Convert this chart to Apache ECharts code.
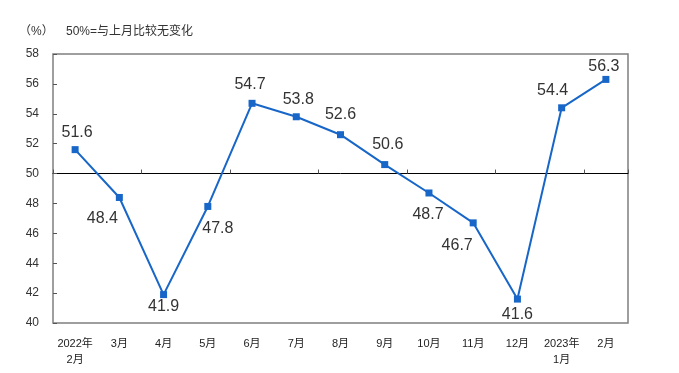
<!DOCTYPE html>
<html><head><meta charset="utf-8">
<script src="https://cdn.jsdelivr.net/npm/echarts@6/dist/echarts.min.js"></script>
<style>html,body{margin:0;padding:0;background:#fff}#c{width:679px;height:373px}</style>
</head><body><div id="c"></div>
<script>
const categories = ['2022年\n2月','3月','4月','5月','6月','7月','8月','9月','10月','11月','12月','2023年\n1月','2月'];
const values = [51.6, 48.4, 41.9, 47.8, 54.7, 53.8, 52.6, 50.6, 48.7, 46.7, 41.6, 54.4, 56.3];
const yTicks = {min: 40, max: 58, interval: 2};
const unitText = '（%）';
const noteText = '50%=与上月比较无变化';

const labelOffsets = [[2,-17],[-17,21],[0,12],[10,22],[-2,-19],[2,-17],[0,-20],[3,-20],[-1,22],[-16,23],[0,16],[-9,-17],[-2,-13]];
const font = '"Liberation Sans", Arial, "Noto Sans CJK SC", sans-serif';
const chart = echarts.init(document.getElementById('c'), null, {renderer:'canvas'});
const grid = {left:53, right:51, top:54, bottom:50};
const plotH = 373 - grid.top - grid.bottom;
const zeroOffset = -plotH * (50 - yTicks.min) / (yTicks.max - yTicks.min);
chart.setOption({
  animation:false,
  backgroundColor:'#fff',
  grid: Object.assign({show:true, borderColor:'#7f7f7f', borderWidth:1.5, backgroundColor:'transparent'}, grid),
  graphic:[
    {type:'text', left:19, top:26, style:{text:unitText, font:'12px '+font, fill:'#333'}},
    {type:'text', left:66, top:26, style:{text:noteText, font:'12px '+font, fill:'#333'}}
  ],
  xAxis:[
    {type:'category', data:categories, boundaryGap:true, position:'bottom',
     axisLine:{show:false}, axisTick:{show:false},
     axisLabel:{color:'#222', fontSize:11, fontFamily:font, margin:13, lineHeight:16, interval:0}},
    {type:'category', data:categories, boundaryGap:true, position:'bottom', offset:zeroOffset,
     axisLine:{show:true, lineStyle:{color:'#000', width:1}}, axisTick:{show:true, inside:true, length:4, lineStyle:{color:'#555'}},
     axisLabel:{show:false}}
  ],
  yAxis:{type:'value', min:yTicks.min, max:yTicks.max, interval:yTicks.interval,
    axisLine:{show:false}, axisTick:{show:true, inside:true, length:4, lineStyle:{color:'#555'}},
    splitLine:{show:false},
    axisLabel:{color:'#333', fontSize:12, fontFamily:font, margin:14}},
  series:[{
    type:'line', data:values.map((v,i)=>({value:v, label:{offset:labelOffsets[i]}})),
    symbol:'rect', symbolSize:7, showAllSymbol:true,
    lineStyle:{color:'#1766c8', width:2}, itemStyle:{color:'#1766c8'},
    label:{show:true, position:'inside', color:'#333', fontSize:16, fontFamily:font, formatter:p=>p.value.toFixed(1)}
  }]
});
</script></body></html>
